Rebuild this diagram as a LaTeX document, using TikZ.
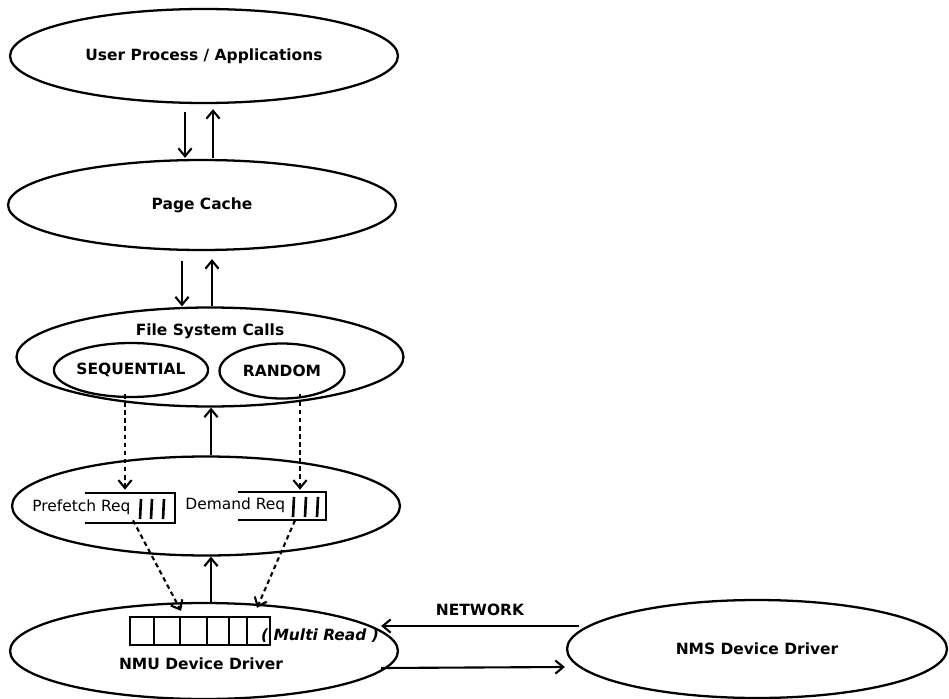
\documentclass[tikz,border=0pt]{standalone}
\usepackage{fontspec}
\setmainfont{DejaVu Sans}
\usetikzlibrary{arrows.meta,shapes.geometric,calc}
\tikzset{
  layer_e/.style = {ellipse, draw, line width=1.3pt, inner sep=0pt,
    font=\fontsize{8.8}{10}\selectfont\bfseries,
    minimum width=7.76cm, minimum height=1.88cm},% couche principale
  mode_e/.style = {ellipse, draw, line width=1.3pt, inner sep=0pt,
    font=\fontsize{8.8}{10}\selectfont\bfseries,
    minimum width=2.48cm, minimum height=1.08cm},% mode d'acces
  queue_n/.style = {inner sep=0pt, minimum width=1.8cm,
    minimum height=0.6cm},% file de requetes
  txt/.style = {inner sep=0pt, font=\fontsize{8.8}{10}\selectfont},
  flow/.style = {->, line width=1.2pt},
  dflow/.style = {->, line width=1.2pt, dash pattern=on 2.6pt off 2pt}
}
\begin{document}
\begin{tikzpicture}[x=0.02cm, y=-0.02cm,
  >={Straight Barb[length=4.5pt,width=7.5pt,line width=1.2pt]}]
\useasboundingbox (0,0) rectangle (949,699);
\node [layer_e] (user) at (204,56) {User Process / Applications};
\node [layer_e, minimum height=1.8cm] (page) at (202,205) {Page Cache};
\node [layer_e, minimum width=7.74cm, minimum height=1.98cm] (fsc) at (210,357) {};
\node [txt, font=\fontsize{8.8}{10}\selectfont\bfseries] (fsc_t) at (210,331) {File System Calls};
\node [mode_e] (seq) at (131,370) {SEQUENTIAL};
\node [mode_e, minimum width=2.5cm, minimum height=1.1cm] (rnd) at (282,371) {RANDOM};
\node [layer_e, minimum height=1.98cm] (req_e) at (206,506) {};
\node [layer_e, minimum height=1.92cm] (nmu) at (204,651) {};
\node [layer_e, minimum width=7.6cm, minimum height=1.96cm] (nms) at (757,649) {NMS Device Driver};

% files prefetch / demand
\node [queue_n] (pre_q) at (130,508) {};
\node [queue_n, minimum width=1.76cm, minimum height=0.56cm] (dem_q) at (282,506) {};
\foreach \q in {pre_q,dem_q}
  \draw [line width=1.3pt] (\q.north west) -- (\q.north east)
    -- (\q.south east) -- (\q.south west);
\foreach \x in {140,151,163}
  \draw [line width=1.5pt] (\x+1,499) -- (\x,519);
\foreach \x in {293,305,317}
  \draw [line width=1.5pt] (\x+1,497) -- (\x,517);
\node [txt, anchor=west] (pre_t) at (32,507) {Prefetch Req};
\node [txt, anchor=west] (dem_t) at (185,505) {Demand Req};

% file multi read
\node [draw, line width=1.3pt, minimum width=2.8cm, minimum height=0.56cm,
  inner sep=0pt] (mr_q) at (200,631) {};
\foreach \x in {154,180,207,229,247}
  \draw [line width=1.3pt] (\x,617) -- (\x,645);
\node [txt, font=\fontsize{8.8}{10}\selectfont\bfseries\itshape] (mr_t) at (320,636) {( Multi Read )};
\node [txt, font=\fontsize{8.8}{10}\selectfont\bfseries] (nmu_t) at (201,664) {NMU Device Driver};

% fleches
\draw [flow] ($(user.south)+(-19,8)$) -- ($(page.north)+(-17,-1)$);
\draw [flow] ($(page.north)+(11,-1)$) -- ($(user.south)+(9,5)$);
\draw [flow] ($(page.south)+(-20,10)$) -- ($(fsc.north)+(-28,0)$);
\draw [flow] ($(fsc.north)+(2,0)$) -- ($(page.south)+(10,8)$);
\draw [flow] ($(req_e.north)+(5,0)$) -- ($(fsc.south)+(1,0)$);
\draw [flow] ($(nmu.north)+(7,0)$) -- ($(req_e.south)+(5,0)$);
\draw [dflow] ($(seq.south)+(-6,-4)$) -- ($(pre_q.north)+(-5,-3)$);
\draw [dflow] ($(rnd.south)+(18,-6)$) -- ($(dem_q.north)+(18,-2)$);
\draw [dflow] ($(pre_q.south)+(3,-3)$) -- ($(mr_q.north)+(-19,-5)$);
\draw [dflow] ($(dem_q.south)+(13,0)$) -- ($(mr_q.north)+(57,-8)$);
\draw [flow] ($(nms.west)+(13,-23)$) -- ($(nmu.east)+(-18,-25)$)
  node [midway, above=5pt, txt, font=\fontsize{8.8}{10}\selectfont\bfseries] (net) {NETWORK};
\draw [flow] ($(nmu.east)+(-18,17)$) -- ($(nms.west)+(-1,18)$);
\end{tikzpicture}
\end{document}
